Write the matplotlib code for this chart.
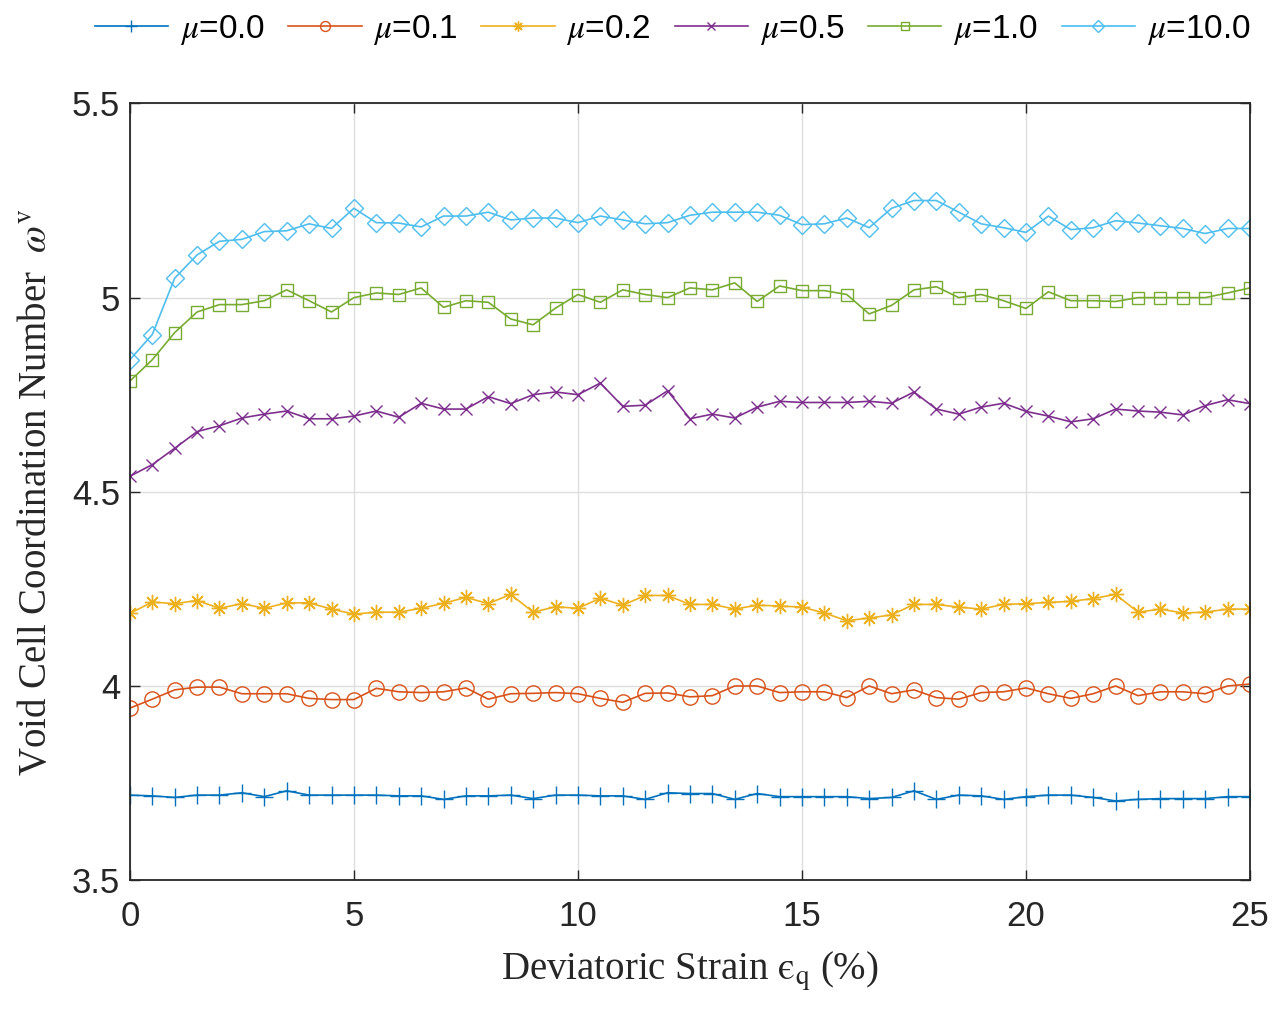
import numpy as np
import matplotlib
matplotlib.use("Agg")
import matplotlib.pyplot as plt

strain = [i * 0.5 for i in range(51)]

mu_00 = [3.719, 3.717, 3.713, 3.719, 3.719, 3.725, 3.715, 3.730, 3.719, 3.719,
         3.719, 3.719, 3.717, 3.717, 3.708, 3.717, 3.717, 3.719, 3.710, 3.719,
         3.719, 3.717, 3.717, 3.708, 3.725, 3.723, 3.723, 3.708, 3.723, 3.715,
         3.715, 3.715, 3.715, 3.710, 3.713, 3.730, 3.708, 3.719, 3.717, 3.708,
         3.715, 3.719, 3.719, 3.713, 3.704, 3.708, 3.710, 3.710, 3.710, 3.715,
         3.715]
mu_01 = [3.943, 3.966, 3.990, 3.997, 3.997, 3.980, 3.980, 3.980, 3.968, 3.965,
         3.965, 3.994, 3.985, 3.983, 3.985, 3.995, 3.966, 3.980, 3.981, 3.983,
         3.980, 3.968, 3.958, 3.981, 3.982, 3.972, 3.975, 4.000, 4.000, 3.983,
         3.985, 3.985, 3.970, 4.000, 3.980, 3.990, 3.970, 3.966, 3.983, 3.985,
         3.995, 3.980, 3.968, 3.980, 4.000, 3.975, 3.985, 3.985, 3.980, 4.000,
         4.005]
mu_02 = [4.187, 4.216, 4.212, 4.220, 4.200, 4.212, 4.200, 4.214, 4.214, 4.198,
         4.185, 4.190, 4.190, 4.200, 4.213, 4.228, 4.212, 4.236, 4.190, 4.204,
         4.200, 4.226, 4.208, 4.233, 4.233, 4.210, 4.210, 4.198, 4.208, 4.206,
         4.203, 4.188, 4.168, 4.175, 4.183, 4.210, 4.210, 4.203, 4.198, 4.210,
         4.212, 4.215, 4.218, 4.225, 4.236, 4.190, 4.198, 4.188, 4.190, 4.198,
         4.198]
mu_05 = [4.540, 4.570, 4.612, 4.655, 4.670, 4.690, 4.700, 4.708, 4.688, 4.688,
         4.695, 4.708, 4.692, 4.728, 4.713, 4.713, 4.745, 4.727, 4.750, 4.757,
         4.750, 4.780, 4.720, 4.723, 4.760, 4.688, 4.700, 4.690, 4.718, 4.733,
         4.730, 4.730, 4.730, 4.733, 4.728, 4.757, 4.713, 4.700, 4.718, 4.728,
         4.707, 4.695, 4.680, 4.688, 4.713, 4.708, 4.705, 4.698, 4.722, 4.737,
         4.727]
mu_10 = [4.785, 4.840, 4.910, 4.963, 4.982, 4.982, 4.992, 5.020, 4.992, 4.963,
         5.000, 5.012, 5.008, 5.025, 4.975, 4.992, 4.988, 4.945, 4.930, 4.973,
         5.008, 4.988, 5.020, 5.008, 5.000, 5.025, 5.020, 5.038, 4.990, 5.030,
         5.018, 5.018, 5.008, 4.958, 4.980, 5.020, 5.028, 5.000, 5.008, 4.992,
         4.972, 5.015, 4.992, 4.992, 4.990, 5.000, 5.000, 5.000, 5.000, 5.012,
         5.025]
mu_100 = [4.840, 4.905, 5.050, 5.110, 5.145, 5.150, 5.170, 5.172, 5.190, 5.178,
          5.230, 5.193, 5.192, 5.182, 5.210, 5.210, 5.220, 5.200, 5.205, 5.205,
          5.193, 5.210, 5.200, 5.190, 5.193, 5.212, 5.220, 5.220, 5.220, 5.212,
          5.188, 5.190, 5.205, 5.180, 5.230, 5.250, 5.250, 5.220, 5.190, 5.180,
          5.168, 5.210, 5.175, 5.180, 5.198, 5.192, 5.185, 5.178, 5.165, 5.178,
          5.178]

labels = [r"$\mu$=0.0", r"$\mu$=0.1", r"$\mu$=0.2", r"$\mu$=0.5", r"$\mu$=1.0", r"$\mu$=10.0"]
series = [mu_00, mu_01, mu_02, mu_05, mu_10, mu_100]
colors = ["#0072BD", "#D95319", "#EDB120", "#7E2F8E", "#77AC30", "#4DBEEE"]
markers = ["+", "o", (8, 2, 0), "x", "s", "D"]
msizes = [13, 11, 11, 9, 8, 9]

plt.rcParams["font.family"] = ["Liberation Sans", "DejaVu Sans"]
plt.rcParams["mathtext.fontset"] = "stix"

fig = plt.figure(figsize=(12.86, 10.14), dpi=100)
ax = fig.add_axes([0.101, 0.132, 0.871, 0.766])

for y, lab, c, m, ms in zip(series, labels, colors, markers, msizes):
    ax.plot(strain, y, color=c, marker=m, markersize=ms, markerfacecolor="none",
            markeredgecolor=c, markeredgewidth=1.0, linewidth=1.2, label=lab)

ax.set_xlim(0, 25)
ax.set_ylim(3.5, 5.5)
ax.set_xticks([0, 5, 10, 15, 20, 25])
ax.set_yticks([3.5, 4, 4.5, 5, 5.5])
ax.set_yticklabels(["3.5", "4", "4.5", "5", "5.5"])
ax.grid(True, color="#dedede", linewidth=1.0)
ax.set_axisbelow(True)
ax.tick_params(direction="in", top=True, right=True, length=7, width=1.0,
               labelsize=25, colors="#262626", pad=7)
ax.tick_params(axis="x", pad=14)
for s in ax.spines.values():
    s.set_linewidth(1.3)
    s.set_color("#262626")

ax.set_xlabel("Deviatoric Strain $\\mathrm{\u03f5}_{\\mathrm{q}}$ (%)", fontsize=28,
              family="Liberation Serif", color="#262626", labelpad=12)
ax.set_ylabel(r"Void Cell Coordination Number  $\omega^{\mathrm{v}}$", fontsize=28,
              family="Liberation Serif", color="#262626", labelpad=12)

fig.legend(loc="upper center", bbox_to_anchor=(0.523, 1.017), ncol=6, frameon=False,
           fontsize=24, handlelength=2.2, columnspacing=0.7, handletextpad=0.35,
           markerscale=0.65)

fig.savefig("out.png", dpi=100)
